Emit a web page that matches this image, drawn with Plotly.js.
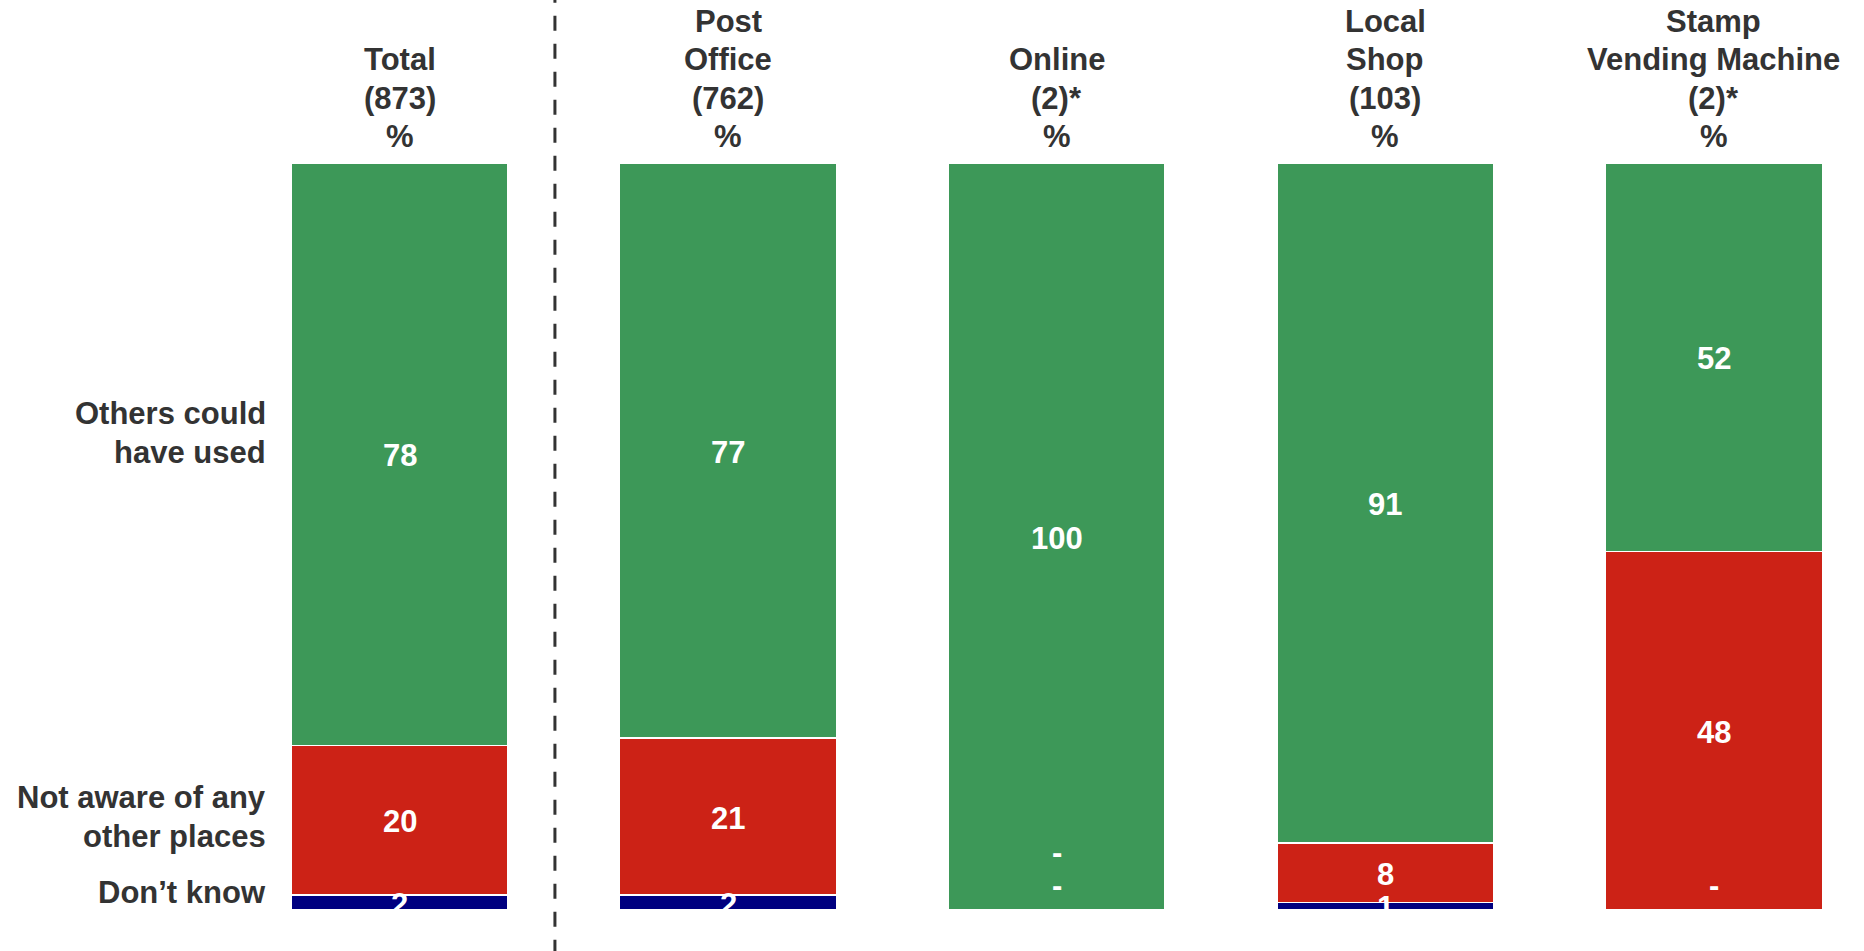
<!DOCTYPE html>
<html>
<head>
<meta charset="utf-8">
<script src="https://cdn.plot.ly/plotly-3.0.1.min.js"></script>
<style>html,body{margin:0;padding:0;background:#fff;}#chart{width:1864px;height:951px;}</style>
</head>
<body>
<div id="chart"></div>
<script>
// ---- data ----
const categories = ['Total', 'Post Office', 'Online', 'Local Shop', 'Stamp Vending Machine'];
const headerLabels = ['Total<br>(873)<br>%', 'Post<br>Office<br>(762)<br>%', 'Online<br>(2)*<br>%', 'Local<br>Shop<br>(103)<br>%', 'Stamp<br>Vending Machine<br>(2)*<br>%'];
const othersCouldHaveUsed = [78, 77, 100, 91, 52];
const notAwareOfOtherPlaces = [20, 21, 0, 8, 48];
const dontKnow = [2, 2, 0, 1, 0];
const seriesNames = ['Others could<br>have used', 'Not aware of any<br>other places', 'Don’t know'];

// ---- style ----
const GREEN = '#3D9858', RED = '#CC2216', NAVY = '#000080', DARK = '#333333';
const FONT = '"Liberation Sans", Arial, sans-serif';
const FS = 31;
const LINE_PX = 38.4;          // line spacing of multi-line labels
const PLOT_TOP = 163, PLOT_BOTTOM = 910, PLOT_H = PLOT_BOTTOM - PLOT_TOP;
const HEADER_LAST_LINE_PX = 136.7;
const ROW_LABEL_CENTER_PX = [433, 817, 892];
const ROW_LABEL_RIGHT_PX = 268;
const VALUE_LABEL_SHIFT = -1.5;
const zeroLabelY = {red: 7.9, blue: 3.5};

const pxToPaper = py => (PLOT_BOTTOM - py) / PLOT_H;

const stackOrder = [
  {vals: dontKnow, color: NAVY, name: seriesNames[2], key: 'blue'},
  {vals: notAwareOfOtherPlaces, color: RED, name: seriesNames[1], key: 'red'},
  {vals: othersCouldHaveUsed, color: GREEN, name: seriesNames[0], key: 'green'}
];

const traces = [];
stackOrder.forEach(s => {
  traces.push({
    type: 'bar', x: categories, y: s.vals, name: s.name,
    marker: {color: s.color, line: {color: '#ffffff', width: 1.5}},
    width: 0.66, hoverinfo: 'skip', showlegend: false
  });
});

const annotations = [];

// value labels (centred in each stacked segment)
const base = categories.map(() => 0);
stackOrder.forEach(s => {
  s.vals.forEach((v, i) => {
    let y = null, t = '';
    if (v > 0) { y = base[i] + v / 2; t = String(v); }
    else if (s.key !== 'green') { y = zeroLabelY[s.key]; t = '-'; }
    base[i] += v;
    if (y === null) return;
    annotations.push({
      x: categories[i], xref: 'x', y: y, yref: 'y', xanchor: 'center', yanchor: 'middle',
      text: '<b>' + t + '</b>', showarrow: false, yshift: VALUE_LABEL_SHIFT,
      font: {family: FONT, size: FS, color: '#ffffff'}
    });
  });
});

// column headers, one annotation per line
categories.forEach((c, i) => {
  const lines = headerLabels[i].split('<br>');
  lines.forEach((ln, k) => {
    const py = HEADER_LAST_LINE_PX - (lines.length - 1 - k) * LINE_PX;
    annotations.push({
      x: c, xref: 'x', y: pxToPaper(py), yref: 'paper', yanchor: 'middle', xanchor: 'center',
      text: '<b>' + ln + '</b>', showarrow: false,
      font: {family: FONT, size: FS, color: DARK}
    });
  });
});
// row labels
seriesNames.forEach((n, k) => {
  const lines = n.split('<br>');
  lines.forEach((ln, j) => {
    const py = ROW_LABEL_CENTER_PX[k] + (j - (lines.length - 1) / 2) * LINE_PX;
    annotations.push({
      x: ROW_LABEL_RIGHT_PX / 1864, xref: 'paper', y: pxToPaper(py), yref: 'paper',
      xanchor: 'right', yanchor: 'middle', align: 'right', showarrow: false,
      text: '<b>' + ln + '</b>', font: {family: FONT, size: FS, color: DARK}
    });
  });
});

const layout = {
  width: 1864, height: 951,
  margin: {l: 0, r: 0, t: PLOT_TOP, b: 951 - PLOT_BOTTOM, pad: 0},
  paper_bgcolor: '#ffffff', plot_bgcolor: '#ffffff',
  barmode: 'stack',
  showlegend: false,
  xaxis: {type: 'category', range: [-1.2158, 4.4568], visible: false, fixedrange: true},
  yaxis: {range: [0, 100], visible: false, fixedrange: true},
  annotations: annotations,
  shapes: [
    {
      type: 'line', xref: 'x', x0: 0.473, x1: 0.473, yref: 'paper', y0: -0.06, y1: 1.225,
      line: {color: DARK, width: 3, dash: '15px,13px'}
    }
  ]
};

Plotly.newPlot('chart', traces, layout, {displayModeBar: false, staticPlot: true});
</script>
</body>
</html>
